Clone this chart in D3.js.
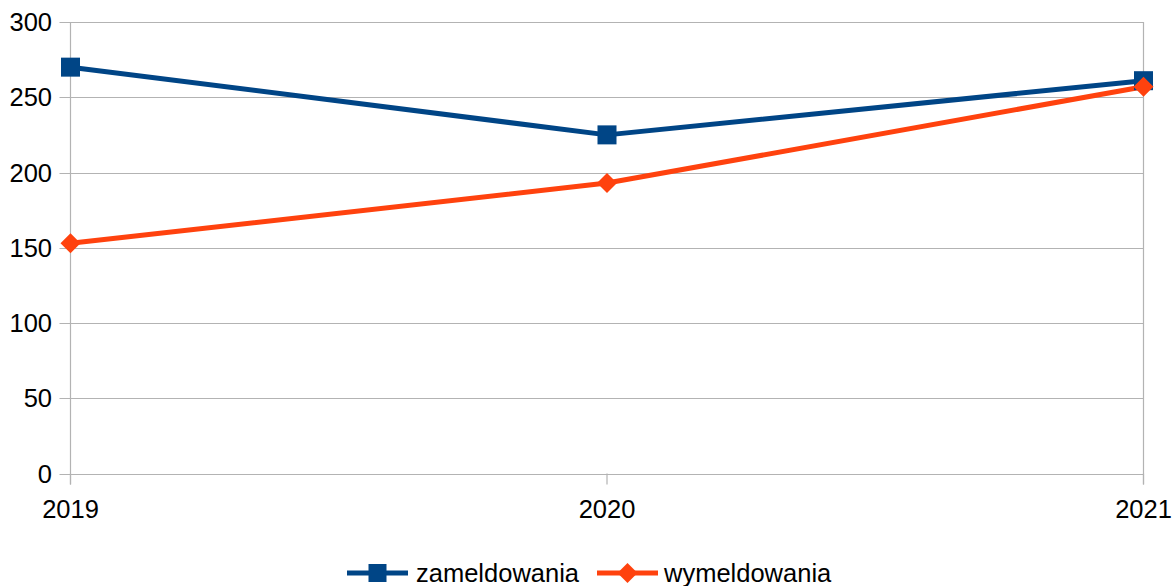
<!DOCTYPE html>
<html><head><meta charset="utf-8">
<script src="https://cdn.jsdelivr.net/npm/d3@7"></script>
<style>body{margin:0;background:#fff}svg{display:block}text{font-family:"Liberation Sans",Arial,sans-serif}</style>
</head><body>
<svg id="c" width="1174" height="586"></svg>
<script>
const categories = ["2019", "2020", "2021"];
const zameldowania = [270, 225, 261];
const wymeldowania = [153, 193, 257];
const yTicks = [0, 50, 100, 150, 200, 250, 300];
const seriesNames = ["zameldowania", "wymeldowania"];

const svg = d3.select("#c");
const L = 70.5, R = 1143.5, T = 22, B = 473.5;
const x = d3.scalePoint().domain(categories).range([L, R]);
const y = d3.scaleLinear().domain([0, 300]).range([B, T]);
const grid = "#b3b3b3";
const fs = 25.5;

svg.append("g").selectAll("line").data(yTicks).join("line")
  .attr("x1", L - 11).attr("x2", R).attr("y1", d => Math.round(y(d)) + 0.5).attr("y2", d => Math.round(y(d)) + 0.5)
  .attr("stroke", grid).attr("stroke-width", 1.2);
svg.append("line").attr("x1", L).attr("x2", L).attr("y1", T).attr("y2", B + 11).attr("stroke", grid).attr("stroke-width", 1.2);
svg.append("line").attr("x1", R).attr("x2", R).attr("y1", T).attr("y2", B + 11).attr("stroke", grid).attr("stroke-width", 1.2);
svg.append("g").selectAll("line").data(categories).join("line")
  .attr("x1", d => x(d)).attr("x2", d => x(d)).attr("y1", B).attr("y2", B + 11)
  .attr("stroke", grid).attr("stroke-width", 1.2);

svg.append("g").selectAll("text").data(yTicks).join("text")
  .attr("x", 52).attr("y", d => y(d) + 9).attr("text-anchor", "end")
  .attr("font-size", fs).attr("fill", "#000").text(d => d);
svg.append("g").selectAll("text").data(categories).join("text")
  .attr("x", d => x(d)).attr("y", 518).attr("text-anchor", "middle")
  .attr("font-size", fs).attr("fill", "#000").text(d => d);

const colors = ["#004586", "#ff420e"];
const line = d3.line().x((d, i) => x(categories[i])).y(d => y(d));
[zameldowania, wymeldowania].forEach((vals, si) => {
  svg.append("path").attr("d", line(vals)).attr("fill", "none")
    .attr("stroke", colors[si]).attr("stroke-width", 5).attr("stroke-linejoin", "round");
});
const sq = 19;
svg.append("g").selectAll("rect").data(zameldowania).join("rect")
  .attr("x", (d, i) => x(categories[i]) - sq / 2).attr("y", d => y(d) - sq / 2)
  .attr("width", sq).attr("height", sq).attr("fill", colors[0]);
const dm = 10;
const diamond = (cx, cy) => `M${cx},${cy - dm}L${cx + dm},${cy}L${cx},${cy + dm}L${cx - dm},${cy}Z`;
svg.append("g").selectAll("path").data(wymeldowania).join("path")
  .attr("d", (d, i) => diamond(x(categories[i]), y(d))).attr("fill", colors[1]);

const leg = [{x1: 347, x2: 408, tx: 416}, {x1: 597, x2: 658, tx: 664}];
leg.forEach((l, i) => {
  const cy = 573;
  svg.append("line").attr("x1", l.x1).attr("x2", l.x2).attr("y1", cy).attr("y2", cy)
    .attr("stroke", colors[i]).attr("stroke-width", 5);
  const cx = (l.x1 + l.x2) / 2;
  if (i === 0) svg.append("rect").attr("x", cx - 9).attr("y", cy - 9).attr("width", 18).attr("height", 18).attr("fill", colors[0]);
  else svg.append("path").attr("d", `M${cx},${cy - 10}L${cx + 10},${cy}L${cx},${cy + 10}L${cx - 10},${cy}Z`).attr("fill", colors[1]);
  svg.append("text").attr("x", l.tx).attr("y", cy + 9).attr("font-size", fs).attr("fill", "#000").text(seriesNames[i]);
});
</script>
</body></html>
